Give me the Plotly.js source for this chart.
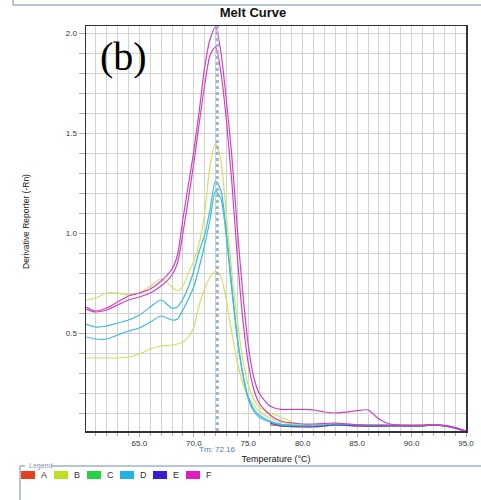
<!DOCTYPE html>
<html>
<head>
<meta charset="utf-8">
<script src="https://cdn.plot.ly/plotly-3.0.1.min.js"></script>
<style>html,body{margin:0;padding:0;background:#fff;}#chart{width:481px;height:500px;}</style>
</head>
<body>
<div id="chart"></div>
<script>
// ---- data ----
var temps = [60.1, 61, 62, 63, 64, 65, 66, 67, 68, 68.5, 69, 69.5, 70, 70.5, 71, 71.5, 72, 72.5, 73, 73.5, 74, 74.5, 75, 75.5, 76, 77, 78, 79, 80, 81, 82, 83, 84, 85, 86, 87, 88, 89, 90, 91, 92, 93, 94, 95];
var tailTemps = [77, 78, 79, 80, 81, 82, 83, 84, 85, 86, 87, 88, 89, 90, 91, 92, 93, 94, 95];

var wellB1 = [0.665, 0.675, 0.70, 0.70, 0.69, 0.70, 0.735, 0.77, 0.73, 0.71, 0.735, 0.80, 0.86, 0.95, 1.10, 1.34, 1.45, 1.36, 1.08, 0.80, 0.56, 0.37, 0.24, 0.17, 0.13, 0.10, 0.08, 0.055, 0.042, 0.04, 0.045, 0.048, 0.045, 0.042, 0.04, 0.04, 0.04, 0.04, 0.038, 0.038, 0.04, 0.036, 0.026, 0.01];
var wellB2 = [0.375, 0.375, 0.375, 0.375, 0.38, 0.395, 0.42, 0.435, 0.44, 0.445, 0.455, 0.48, 0.53, 0.64, 0.72, 0.78, 0.81, 0.78, 0.66, 0.50, 0.35, 0.25, 0.18, 0.14, 0.11, 0.075, 0.055, 0.045, 0.04, 0.04, 0.045, 0.05, 0.045, 0.04, 0.04, 0.04, 0.04, 0.04, 0.04, 0.04, 0.042, 0.037, 0.026, 0.01];
var wellD1 = [0.545, 0.53, 0.535, 0.55, 0.565, 0.59, 0.63, 0.665, 0.625, 0.63, 0.67, 0.73, 0.81, 0.91, 0.99, 1.12, 1.26, 1.21, 1.00, 0.73, 0.48, 0.30, 0.18, 0.12, 0.09, 0.06, 0.045, 0.04, 0.036, 0.036, 0.04, 0.045, 0.042, 0.04, 0.038, 0.038, 0.038, 0.037, 0.036, 0.037, 0.04, 0.036, 0.024, 0.008];
var wellD2 = [0.48, 0.47, 0.47, 0.49, 0.51, 0.525, 0.555, 0.585, 0.565, 0.57, 0.615, 0.67, 0.73, 0.83, 0.94, 1.07, 1.21, 1.17, 0.97, 0.71, 0.47, 0.29, 0.17, 0.11, 0.08, 0.055, 0.042, 0.038, 0.034, 0.034, 0.038, 0.043, 0.04, 0.038, 0.036, 0.036, 0.036, 0.035, 0.034, 0.036, 0.039, 0.035, 0.023, 0.007];
var wellF1 = [0.63, 0.61, 0.625, 0.655, 0.685, 0.70, 0.72, 0.76, 0.82, 0.89, 1.07, 1.24, 1.41, 1.61, 1.83, 1.97, 2.03, 1.90, 1.66, 1.38, 1.02, 0.70, 0.44, 0.28, 0.20, 0.135, 0.118, 0.118, 0.118, 0.115, 0.105, 0.10, 0.104, 0.112, 0.115, 0.07, 0.045, 0.04, 0.04, 0.04, 0.042, 0.038, 0.028, 0.01];
var wellF2 = [0.62, 0.605, 0.615, 0.64, 0.665, 0.68, 0.70, 0.735, 0.79, 0.85, 1.00, 1.17, 1.35, 1.55, 1.74, 1.89, 1.93, 1.80, 1.56, 1.25, 0.88, 0.57, 0.35, 0.22, 0.15, 0.09, 0.06, 0.05, 0.045, 0.045, 0.048, 0.05, 0.046, 0.042, 0.04, 0.04, 0.04, 0.038, 0.037, 0.038, 0.04, 0.036, 0.026, 0.01];
var wellA = [0.04, 0.036, 0.034, 0.033, 0.033, 0.036, 0.04, 0.038, 0.036, 0.035, 0.035, 0.036, 0.037, 0.036, 0.037, 0.04, 0.036, 0.025, 0.008];
var wellC = [0.045, 0.04, 0.037, 0.035, 0.035, 0.038, 0.042, 0.04, 0.037, 0.036, 0.036, 0.036, 0.036, 0.035, 0.036, 0.04, 0.036, 0.024, 0.008];
var wellE = [0.05, 0.035, 0.032, 0.03, 0.03, 0.035, 0.04, 0.038, 0.035, 0.034, 0.034, 0.035, 0.036, 0.035, 0.036, 0.04, 0.037, 0.025, 0.008];

var tm = 72.16;
var tmLabel = "Tm: 72.16";
var legendNames = ["A", "B", "C", "D", "E", "F"];
var legendColors = ["#e2401e", "#bfe024", "#22d444", "#22b4e4", "#3a1cd8", "#e01cc0"];
var lineColors = {A: "#e04a30", B: "#d2e060", C: "#40d060", D: "#3cbcd8", E: "#5a44d0", F: "#cc44c0"};

// ---- traces ----
function tr(x, y, c) {
  return {x: x, y: y, type: "scatter", mode: "lines", showlegend: false, hoverinfo: "skip",
          line: {color: c, width: 1.2, shape: "spline", smoothing: 0.7}};
}
var data = [
  tr(tailTemps, wellA, lineColors.A),
  tr(temps, wellB1, lineColors.B),
  tr(temps, wellB2, lineColors.B),
  tr(tailTemps, wellC, lineColors.C),
  tr(temps, wellD1, lineColors.D),
  tr(temps, wellD2, lineColors.D),
  tr(tailTemps, wellE, lineColors.E),
  tr(temps, wellF1, lineColors.F),
  tr(temps, wellF2, lineColors.F)
];

// plot area pixel geometry
var W = 481, H = 500, mL = 86, mR = 15, mT = 26, mB = 69;
var pw = W - mL - mR, ph = H - mT - mB;
function px(xp) { return (xp - mL) / pw; }
function py(yp) { return (H - mB - yp) / ph; }

var shapes = [
  {type: "line", xref: "x", yref: "paper", x0: tm, x1: tm, y0: 0, y1: 1,
   line: {color: "#9ab6d2", width: 3, dash: "dot"}, layer: "above"},
  // top frame remnant
  {type: "line", xref: "paper", yref: "paper", x0: px(13), x1: px(481), y0: py(5), y1: py(5), line: {color: "#9fb3c6", width: 1.5}},
  {type: "line", xref: "paper", yref: "paper", x0: px(13), x1: px(13), y0: py(0), y1: py(5), line: {color: "#9fb3c6", width: 1.5}},
  // legend frame
  {type: "line", xref: "paper", yref: "paper", x0: px(20), x1: px(20), y0: py(466), y1: py(500), line: {color: "#9fb3c6", width: 1.5}},
  {type: "line", xref: "paper", yref: "paper", x0: px(20), x1: px(25), y0: py(466), y1: py(466), line: {color: "#9fb3c6", width: 1.5}},
  {type: "line", xref: "paper", yref: "paper", x0: px(51), x1: px(481), y0: py(466), y1: py(466), line: {color: "#9fb3c6", width: 1.5}}
];
var annotations = [
  {text: "(b)", xref: "paper", yref: "paper", x: px(98), y: py(56), xanchor: "left", yanchor: "middle",
   showarrow: false, font: {family: "Liberation Serif, serif", size: 40, color: "#000"}},
  {text: tmLabel, xref: "x", yref: "paper", x: tm, y: py(449), xanchor: "center", yanchor: "middle",
   showarrow: false, font: {family: "Liberation Sans, Arial", size: 8, color: "#4a80b4"}},
  {text: "Legend", xref: "paper", yref: "paper", x: px(27), y: py(466), xanchor: "left", yanchor: "middle",
   showarrow: false, font: {family: "Liberation Sans, Arial", size: 7, color: "#7f98b0"}},
  {text: "Derivative Reporter (-Rn)", xref: "paper", yref: "paper", x: px(26), y: py(222), xanchor: "center", yanchor: "middle",
   textangle: -90, showarrow: false, font: {family: "Liberation Sans, Arial", size: 8.5, color: "#222"}}
];
for (var i = 0; i < legendNames.length; i++) {
  var x0 = 21 + i * 33;
  shapes.push({type: "rect", xref: "paper", yref: "paper", x0: px(x0), x1: px(x0 + 14), y0: py(479), y1: py(471),
               line: {width: 0}, fillcolor: legendColors[i]});
  annotations.push({text: legendNames[i], xref: "paper", yref: "paper", x: px(x0 + 18), y: py(475), xanchor: "left", yanchor: "middle",
                    showarrow: false, font: {family: "Liberation Sans, Arial", size: 9, color: "#333"}});
}

var layout = {
  width: W, height: H,
  margin: {l: mL, r: mR, t: mT, b: mB, pad: 0},
  paper_bgcolor: "#fff", plot_bgcolor: "#fff",
  title: {text: "<b>Melt Curve</b>", x: px(253), xref: "paper", xanchor: "center", y: 1 - 12 / H, yanchor: "middle",
          font: {family: "Liberation Sans, Arial", size: 13, color: "#111"}},
  xaxis: {range: [60.1, 95], tick0: 0, dtick: 5, tickformat: ".1f", showgrid: true, gridcolor: "#d2d2d2", gridwidth: 1,
          zeroline: false, showline: true, linecolor: "#333", linewidth: 1.5, mirror: true,
          ticks: "outside", ticklen: 4, tickcolor: "#aaa",
          tickfont: {family: "Liberation Sans, Arial", size: 8, color: "#333"},
          minor: {dtick: 1, showgrid: true, gridcolor: "#d2d2d2", ticks: "outside", ticklen: 3, tickcolor: "#aaa"},
          title: {text: "Temperature (°C)", standoff: 8, font: {family: "Liberation Sans, Arial", size: 9, color: "#111"}}},
  yaxis: {range: [0.01, 2.035], tick0: 0, dtick: 0.5, tickformat: ".1f", showgrid: true, gridcolor: "#d2d2d2", gridwidth: 1,
          zeroline: false, showline: true, linecolor: "#333", linewidth: 1.5, mirror: true,
          ticks: "outside", ticklen: 6, tickcolor: "#aaa",
          tickfont: {family: "Liberation Sans, Arial", size: 8, color: "#333"},
          minor: {dtick: 0.1, showgrid: true, gridcolor: "#d2d2d2", ticks: "outside", ticklen: 6, tickcolor: "#aaa"}},
  shapes: shapes,
  annotations: annotations
};

Plotly.newPlot("chart", data, layout, {displayModeBar: false, staticPlot: true});
</script>
</body>
</html>
